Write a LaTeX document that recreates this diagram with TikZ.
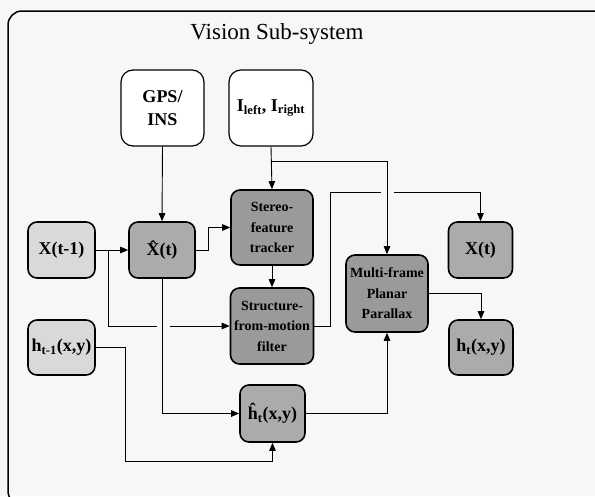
\documentclass[tikz,border=0pt]{standalone}
\usepackage{fontspec}
\setmainfont{Liberation Serif}
\usetikzlibrary{arrows.meta}
\definecolor{bgc}{HTML}{F7F7F7}
\definecolor{darkf}{HTML}{9A9A9A}
\definecolor{midf}{HTML}{ABABAB}
\definecolor{lightf}{HTML}{D9D9D9}
\tikzset{
  blk/.style={draw=black, rounded corners=9pt, line width=1.6pt, align=center,
    inner sep=1pt, font=\bfseries\fontsize{18}{23}\selectfont},
  small/.style={font=\bfseries\fontsize{14}{20.5}\selectfont},
  wbox/.style={blk, fill=white, line width=1.2pt, rounded corners=12pt},
  dbox/.style={blk, fill=darkf},
  mbox/.style={blk, fill=midf},
  lbox/.style={blk, fill=lightf},
  conn/.style={line width=0.9pt, -{Triangle[length=8pt,width=6.5pt]}},
}
\begin{document}
\begin{tikzpicture}[x=1pt,y=-1pt]
\fill[bgc] (0,0) rectangle (595,496);
\useasboundingbox (0,0) rectangle (595,496);
\draw[line width=1.5pt, rounded corners=14pt] (8,11) rectangle (612,505);
\node[font=\fontsize{23}{27}\selectfont] (title) at (277,34) {Vision Sub-system};

\node[wbox, minimum width=83, minimum height=76] (gps) at (162.5,108) {GPS/\\INS};
\node[wbox, minimum width=84, minimum height=76] (img) at (271,108) {I\textsubscript{left}, I\textsubscript{right}};
\node[dbox, small, minimum width=82, minimum height=75] (st) at (272,227.5) {Stereo-\\feature\\tracker};
\node[mbox, minimum width=66, minimum height=56] (xh) at (162,250) {\^{X}(t)};
\node[lbox, minimum width=67, minimum height=56] (x1) at (61.5,250) {X(t-1)};
\node[mbox, minimum width=64, minimum height=56] (xt) at (480.5,250) {X(t)};
\node[dbox, small, minimum width=83, minimum height=76] (sfm) at (272,326) {Structure-\\from-motion\\filter};
\node[dbox, small, minimum width=82, minimum height=77] (mf) at (387,293.5) {Multi-frame\\Planar\\Parallax};
\node[lbox, minimum width=67, minimum height=55] (h1) at (61.5,347.5) {h\textsubscript{t-1}(x,y)};
\node[mbox, minimum width=64, minimum height=55] (ht) at (481,347.5) {h\textsubscript{t}(x,y)};
\node[mbox, minimum width=65, minimum height=57] (hh) at (272.5,413.5) {\^{h}\textsubscript{t}(x,y)};

\coordinate (j1) at (271,161);
\coordinate (s1) at (108,250);

\draw[conn] (gps.south) -- (xh.north);
\draw[conn] (img.south) -- (st.north);
\draw[conn] (j1) -| (mf.north);
\draw[conn] (sfm.east) -| (330,192) -- (381,192) (394,192) -- (xt.north |- 0,192) -- (xt.north);
\draw[conn] (x1.east) -- (xh.west);
\draw[conn] (s1) -- (108,326) -- (157,326) (170,326) -- (sfm.west);
\draw[conn] (xh.east) -- ++(13,0) |- (st.west);
\draw[conn] (st.south) -- (sfm.north);
\draw[conn] (xh.south) |- (hh.west);
\draw[conn] (h1.east) -- ++(30,0) |- (hh.south |- 0,461) -- (hh.south);
\draw[conn] (hh.east) -| (mf.south);
\draw[conn] (mf.east) -| (ht.north);
\end{tikzpicture}
\end{document}
